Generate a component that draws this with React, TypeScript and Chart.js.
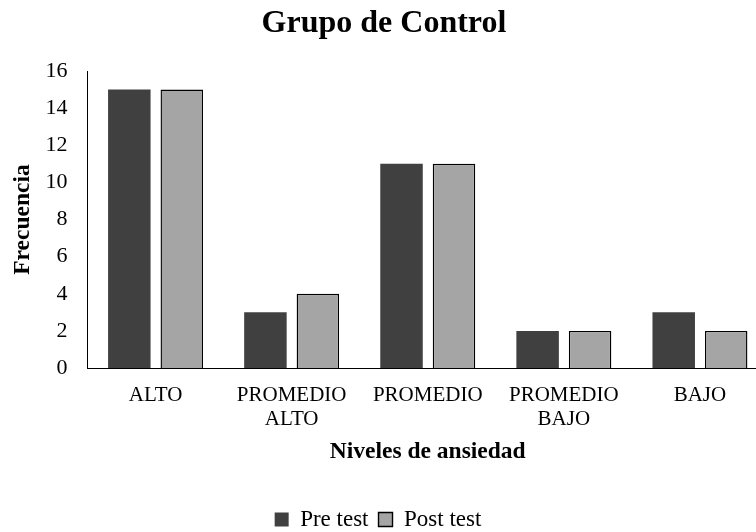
import React, { useEffect, useRef } from "react";
import { Chart, registerables } from "chart.js";

Chart.register(...registerables);

const categories: string[][] = [
  ["ALTO"],
  ["PROMEDIO", "ALTO"],
  ["PROMEDIO"],
  ["PROMEDIO", "BAJO"],
  ["BAJO"],
];
const preTest: number[] = [15, 3, 11, 2, 3];
const postTest: number[] = [15, 4, 11, 2, 2];
const seriesNames: string[] = ["Pre test", "Post test"];
const chartTitle = "Grupo de Control";
const xTitle = "Niveles de ansiedad";
const yTitle = "Frecuencia";
const yMin = 0;
const yMax = 16;
const yStep = 2;

const FONT = "'Liberation Serif', 'Times New Roman', Times, serif";

const shiftLegend = {
  id: "shiftLegend",
  afterLayout(chart: any) {
    const l = chart.legend;
    if (l) {
      l.left -= 6;
      l.right -= 6;
      l.top += 1;
      l.bottom += 1;
    }
  },
};

export default function App() {
  const ref = useRef<HTMLCanvasElement | null>(null);

  useEffect(() => {
    document.body.style.margin = "0";
    document.body.style.overflow = "hidden";
    if (!ref.current) return;
    const chart = new Chart(ref.current, {
      type: "bar",
      data: {
        labels: categories,
        datasets: [
          {
            label: seriesNames[0],
            data: preTest,
            backgroundColor: "#404040",
            borderColor: "#404040",
            borderWidth: 0,
            categoryPercentage: 0.771,
            barPercentage: 0.81,
          },
          {
            label: seriesNames[1],
            data: postTest,
            backgroundColor: "#A5A5A5",
            borderColor: "#000000",
            borderWidth: 1.4,
            categoryPercentage: 0.771,
            barPercentage: 0.81,
          },
        ],
      },
      options: {
        responsive: false,
        animation: false,
        layout: { padding: { left: 0, right: 4, top: 0, bottom: 0 } },
        font: { family: FONT },
        plugins: {
          title: {
            display: true,
            text: chartTitle,
            color: "#000",
            font: { family: FONT, size: 32, weight: "bold" },
            padding: { top: 5, bottom: 27.6 },
          },
          legend: {
            position: "bottom",
            labels: {
              boxWidth: 14,
              boxHeight: 14,
              padding: 10,
              color: "#000",
              font: { family: FONT, size: 23 },
            },
          },
          tooltip: { enabled: false },
        },
        scales: {
          x: {
            grid: { display: false },
            border: { display: true, color: "#000", width: 1 },
            ticks: {
              color: "#000",
              font: { family: FONT, size: 21, lineHeight: 1.15 },
              padding: 7,
              maxRotation: 0,
              autoSkip: false,
            },
            title: {
              display: true,
              text: xTitle,
              color: "#000",
              font: { family: FONT, size: 23.5, weight: "bold" },
              padding: { top: 0, bottom: 31.4 },
            },
            afterFit: (s: any) => {
              s.height = 129;
            },
          },
          y: {
            min: yMin,
            max: yMax,
            grid: { display: false },
            border: { display: true, color: "#000", width: 1 },
            ticks: {
              stepSize: yStep,
              color: "#000",
              font: { family: FONT, size: 22 },
              padding: 12,
            },
            title: {
              display: true,
              text: yTitle,
              color: "#000",
              font: { family: FONT, size: 23.5, weight: "bold" },
              padding: { top: 8.9, bottom: 0 },
            },
            afterFit: (s: any) => {
              s.width = 87.5;
            },
          },
        },
      },
      plugins: [shiftLegend],
    } as any);
    return () => chart.destroy();
  }, []);

  return (
    <div style={{ width: 772, height: 540, overflow: "hidden" }}>
      <canvas ref={ref} width={772} height={540} style={{ display: "block", width: 772, height: 540 }} />
    </div>
  );
}
